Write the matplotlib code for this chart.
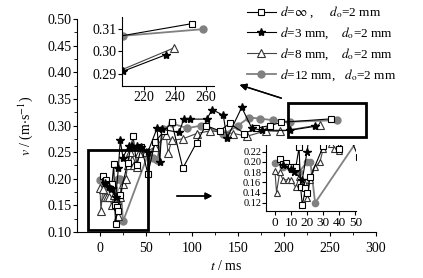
import numpy as np
import matplotlib.pyplot as plt
from matplotlib.patches import Rectangle

plt.rcParams['font.family'] = 'Liberation Serif'
plt.rcParams['mathtext.fontset'] = 'stix'
plt.rcParams['font.size'] = 10

# d = inf (squares)
sq_t = [3, 5, 7, 10, 13, 15, 16, 17, 19, 20, 22, 30, 36, 40, 45, 52, 60, 70, 78,
        90, 105, 115, 130, 141, 157, 170, 185, 197, 251]
sq_v = [0.205, 0.195, 0.198, 0.190, 0.190, 0.228, 0.150, 0.115, 0.148, 0.140, 0.170,
        0.230, 0.280, 0.225, 0.260, 0.209, 0.270, 0.290, 0.306, 0.220, 0.268, 0.300,
        0.290, 0.304, 0.285, 0.295, 0.300, 0.306, 0.3125]

# d = 3 mm (stars)
st_t = [5, 10, 12, 17, 20, 22, 25, 31, 35, 40, 45, 52, 62, 65, 67, 86, 91, 98, 116,
        122, 134, 138, 154, 165, 176, 206, 234]
st_v = [0.193, 0.185, 0.180, 0.165, 0.220, 0.272, 0.240, 0.261, 0.262, 0.262, 0.260,
        0.250, 0.295, 0.231, 0.293, 0.287, 0.312, 0.312, 0.312, 0.330, 0.319, 0.276,
        0.334, 0.295, 0.291, 0.291, 0.2985]

# d = 8 mm (triangles)
tr_t = [0, 1, 3, 5, 8, 10, 13, 15, 18, 20, 22, 25, 28, 30, 33, 35, 37, 40, 42, 50,
        60, 72, 74, 78, 90, 105, 120, 145, 160, 180, 196, 239]
tr_v = [0.183, 0.140, 0.180, 0.165, 0.165, 0.165, 0.150, 0.170, 0.160, 0.130, 0.165,
        0.190, 0.200, 0.225, 0.250, 0.235, 0.225, 0.222, 0.248, 0.250, 0.260, 0.282,
        0.248, 0.272, 0.275, 0.285, 0.290, 0.285, 0.280, 0.290, 0.289, 0.3015]

# d = 12 mm (circles)
ci_t = [0, 5, 10, 13, 15, 20, 22, 25, 52, 58, 62, 69, 78, 95, 110, 134, 136, 150,
        162, 174, 188, 206, 258]
ci_v = [0.197, 0.190, 0.185, 0.182, 0.180, 0.200, 0.200, 0.120, 0.245, 0.240, 0.235,
        0.293, 0.304, 0.295, 0.300, 0.285, 0.285, 0.300, 0.315, 0.313, 0.310, 0.307,
        0.310]


def draw(ax, ms=1.0):
    ax.plot(ci_t, ci_v, '-o', color='#808080', lw=1.3, ms=5 * ms, mfc='#808080', mec='#808080',
            label=r'$d$=12 mm,   $d_{\rm o}$=2 mm', zorder=2)
    ax.plot(tr_t, tr_v, '-^', color='#444444', lw=0.8, ms=5.5 * ms, mfc='white', mec='#333333',
            mew=0.8, label=r'$d$=8 mm,    $d_{\rm o}$=2 mm', zorder=3)
    ax.plot(sq_t, sq_v, '-s', color='black', lw=0.8, ms=4.5 * ms, mfc='white', mec='black',
            mew=0.8, label=r'$d$=$\infty$ ,     $d_{\rm o}$=2 mm', zorder=4)
    ax.plot(st_t, st_v, '-*', color='black', lw=0.8, ms=6 * ms, mfc='black', mec='black',
            label=r'$d$=3 mm,    $d_{\rm o}$=2 mm', zorder=5)


def style(ax):
    for s in ['top', 'right']:
        ax.spines[s].set_visible(False)
    ax.tick_params(direction='out', length=3, width=0.8, pad=1)


fig = plt.figure(figsize=(4.23, 2.78), dpi=100)
ax = fig.add_axes([0.182, 0.165, 0.707, 0.767])
draw(ax)
style(ax)
ax.set_xlim(-25, 300)
ax.set_ylim(0.10, 0.50)
ax.set_xticks(np.arange(0, 301, 50))
ax.set_xticks(np.arange(25, 300, 50), minor=True)
ax.set_yticks(np.arange(0.10, 0.501, 0.05))
ax.set_yticks(np.arange(0.125, 0.5, 0.05), minor=True)
ax.set_yticklabels(['%.2f' % v for v in np.arange(0.10, 0.501, 0.05)])
ax.tick_params(which='minor', length=2)
ax.tick_params(axis='x', pad=4)
ax.set_xlabel(r'$t$ / ms', labelpad=3)
ax.set_ylabel(r'$v$ / (m$\cdot$s$^{-1}$)', labelpad=9)

ax.add_patch(Rectangle((-13, 0.104), 65, 0.150, fill=False, lw=2, ec='black', zorder=6))
ax.add_patch(Rectangle((204, 0.278), 85, 0.065, fill=False, lw=2, ec='black', zorder=6))

h, l = ax.get_legend_handles_labels()
order = [2, 3, 1, 0]
fig.legend([h[i] for i in order], [l[i] for i in order], loc='upper left',
           bbox_to_anchor=(0.555, 1.025), frameon=False, handlelength=2.2,
           handletextpad=0.3, labelspacing=0.4, fontsize=9.5)

# inset 1 (top-right box)
ax1 = fig.add_axes([0.288, 0.691, 0.217, 0.248])
draw(ax1)
style(ax1)
ax1.set_xlim(205.5, 265)
ax1.set_ylim(0.2845, 0.3155)
ax1.set_xticks([220, 240, 260])
ax1.set_yticks([0.29, 0.30, 0.31])
ax1.set_yticklabels(['0.29', '0.30', '0.31'])

# inset 2 (bottom-left box)
ax2 = fig.add_axes([0.629, 0.241, 0.213, 0.236])
draw(ax2, ms=0.9)
style(ax2)
ax2.set_xlim(-5.5, 50.5)
ax2.set_ylim(0.104, 0.232)
ax2.set_xticks(np.arange(0, 51, 10))
ax2.set_yticks(np.arange(0.12, 0.221, 0.02))
ax2.set_yticklabels(['%.2f' % v for v in np.arange(0.12, 0.221, 0.02)])
ax2.tick_params(axis='y', labelsize=7.5, pad=0.5)
ax2.tick_params(axis='x', labelsize=9.5, pad=1)

# arrows
fig.add_artist(plt.annotate('', xy=(237 / 423, 1 - 84 / 278), xytext=(284 / 423, 1 - 99 / 278),
                            xycoords='figure fraction', textcoords='figure fraction',
                            arrowprops=dict(arrowstyle='-|>', color='black', lw=1.0, mutation_scale=10)))
fig.add_artist(plt.annotate('', xy=(215 / 423, 1 - 196 / 278), xytext=(174 / 423, 1 - 196 / 278),
                            xycoords='figure fraction', textcoords='figure fraction',
                            arrowprops=dict(arrowstyle='-|>', color='black', lw=1.0, mutation_scale=10)))

fig.savefig('out.png', dpi=100)
